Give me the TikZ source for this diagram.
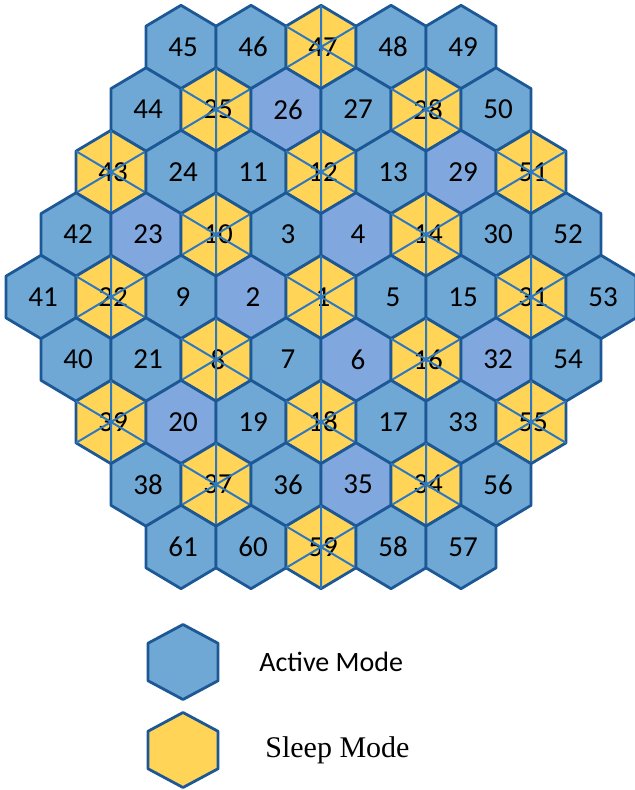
\documentclass[tikz,border=0pt]{standalone}
\usepackage{fontspec}
\setmainfont{Carlito}
\newfontfamily\serifa{Liberation Serif}
\usepackage{tikz}
\usetikzlibrary{positioning}
\definecolor{azul}{HTML}{6FA8D4}
\definecolor{azulb}{HTML}{80A8DE}
\definecolor{amarillo}{HTML}{FFD457}
\definecolor{borde}{HTML}{1D5896}
\definecolor{raya}{HTML}{2E78C2}
\tikzset{
  activa/.style={fill=azul,draw=borde,line width=1.4pt,line join=round},
  activab/.style={fill=azulb,draw=borde,line width=1.4pt,line join=round},
  dormida/.style={fill=amarillo,draw=borde,line width=1.4pt,line join=round},
  diag/.style={raya,line width=1pt},
  num/.style={font=\fontsize{14.5}{16}\selectfont,inner sep=0pt},
  leyenda/.style={anchor=west,inner sep=0pt}
}
\def\dorm{dormida}

\begin{document}
\begin{tikzpicture}[x=0.5pt,y=-0.5pt]
\useasboundingbox (0,0) rectangle (635,790);
% celdas, fila por fila
\foreach \r/\fila in {
  -4/{45/activa,46/activa,47/dormida,48/activa,49/activa},
  -3/{44/activa,25/dormida,26/activab,27/activa,28/dormida,50/activa},
  -2/{43/dormida,24/activa,11/activa,12/dormida,13/activa,29/activab,51/dormida},
  -1/{42/activa,23/activab,10/dormida,3/activa,4/activab,14/dormida,30/activa,52/activa},
  0/{41/activa,22/dormida,9/activa,2/activab,1/dormida,5/activa,15/activa,31/dormida,53/activa},
  1/{40/activa,21/activa,8/dormida,7/activa,6/activab,16/dormida,32/activab,54/activa},
  2/{39/dormida,20/activab,19/activa,18/dormida,17/activa,33/activa,55/dormida},
  3/{38/activa,37/dormida,36/activa,35/activab,34/dormida,56/activa},
  4/{61/activa,60/activa,59/dormida,58/activa,57/activa}}{
  \pgfmathsetmacro\n{9-abs(\r)}
  \foreach \lab/\tipo [count=\k] in \fila {
    \pgfmathsetmacro\cx{321+(\k-(\n+1)/2)*70}
    \pgfmathsetmacro\cy{297+\r*62.5}
    \begin{scope}[shift={(\cx,\cy)}]
      \draw[\tipo] (0,-41.7) -- (35,-20.85) -- (35,20.85) -- (0,41.7) -- (-35,20.85) -- (-35,-20.85) -- cycle;
      \node[num] (c\lab) at (2,0) {\lab};
      \ifx\tipo\dorm
        \draw[diag] (0,-41.7) -- (0,41.7) (-35,-20.85) -- (35,20.85) (-35,20.85) -- (35,-20.85);
      \fi
    \end{scope}
  }
}
% leyenda
\begin{scope}[shift={(183,662)}]
  \draw[activa] (0,-37.5) -- (35,-18.75) -- (35,18.75) -- (0,37.5) -- (-35,18.75) -- (-35,-18.75) -- cycle;
\end{scope}
\begin{scope}[shift={(183,750)}]
  \draw[dormida] (0,-37.5) -- (35,-18.75) -- (35,18.75) -- (0,37.5) -- (-35,18.75) -- (-35,-18.75) -- cycle;
\end{scope}
\node[leyenda,font=\fontsize{14}{16}\selectfont] (tactiva) at (259,662) {Active Mode};
\node[leyenda,font=\serifa\fontsize{15}{17}\selectfont] (tdormida) at (265,750) {Sleep Mode};
\end{tikzpicture}
\end{document}
